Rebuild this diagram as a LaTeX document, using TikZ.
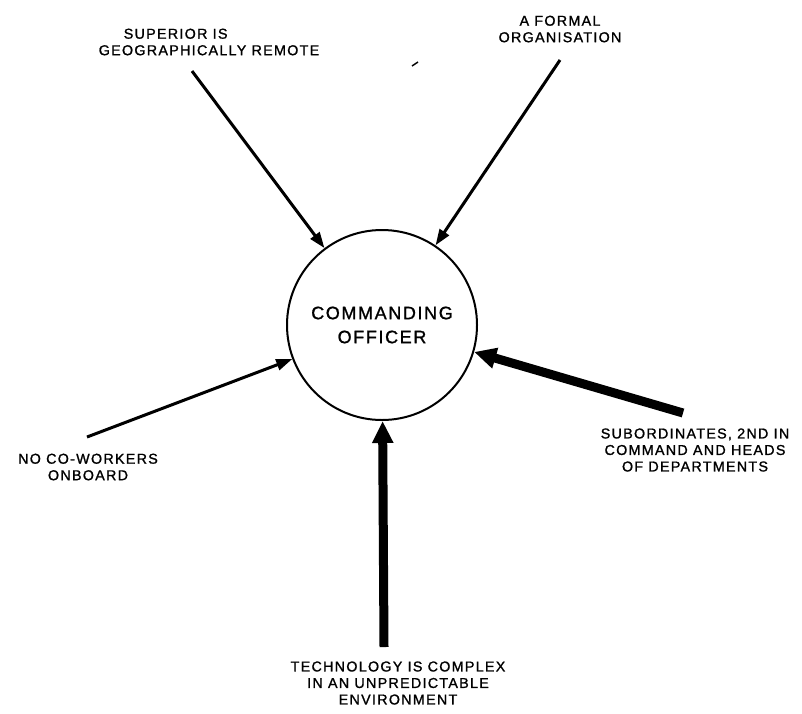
\documentclass[tikz,border=0pt]{standalone}
\usepackage{fontspec}
\newfontfamily\lettering[LetterSpace=9,FakeBold=1.2]{Liberation Sans}
\usetikzlibrary{arrows.meta}
\begin{document}
\begin{tikzpicture}[x=1pt,y=-1pt,
  caption/.style={font=\lettering\fontsize{14.3}{16.5}\selectfont, align=center, inner sep=0pt},
  thinfeed/.style={line width=3pt, -{Triangle[length=16pt,width=11pt]}},
  thickfeed/.style={line width=9pt, -{Triangle[length=22pt,width=20pt]}},
  hub/.style={circle, draw, line width=2pt, minimum size=190pt, inner sep=0pt,
    align=center, font=\lettering\fontsize{18}{24}\selectfont}
  ]
\useasboundingbox (0,0) rectangle (802,713);

% central actor
\node[hub] (co) at (382,325) {COMMANDING\\OFFICER};

% surrounding influences
\node[caption, align=left] (sup) at (209,42) {\hspace*{25pt}SUPERIOR IS\\GEOGRAPHICALLY REMOTE};
\node[caption] (form) at (560,29) {A FORMAL\\ORGANISATION};
\node[caption] (now) at (88,467) {NO CO-WORKERS\\ONBOARD};
\node[caption] (sub) at (695,450) {SUBORDINATES, 2ND IN\\COMMAND AND HEADS\\OF DEPARTMENTS};
\node[caption] (tech) at (398,683) {TECHNOLOGY IS COMPLEX\\IN AN UNPREDICTABLE\\ENVIRONMENT};

% arrow tails
\coordinate (s1) at (192,71);
\coordinate (s2) at (560,60);
\coordinate (s3) at (87,437);
\coordinate (s4) at (384,647);
\coordinate (s5) at (683,413);

\draw[thinfeed] (s1) -- (co);
\draw[thinfeed] (s2) -- (co);
\draw[thinfeed] (s3) -- (co);
\draw[thickfeed] (s4) -- (co);
\draw[thickfeed] (s5) -- (co);

% small pen stroke
\coordinate (t1) at (412,66);
\coordinate (t2) at (418,62);
\draw[line width=1.5pt] (t1) -- (t2);
\end{tikzpicture}
\end{document}
